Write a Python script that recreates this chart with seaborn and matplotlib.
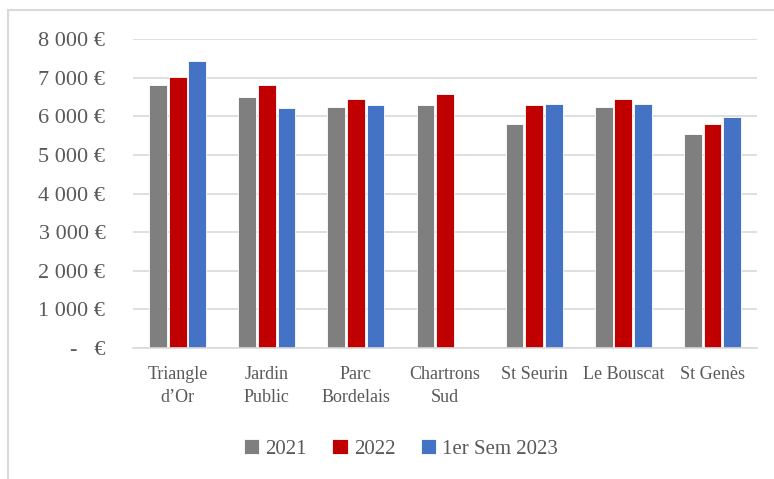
import numpy as np
import pandas as pd
import matplotlib
matplotlib.use("Agg")
import matplotlib.pyplot as plt
from matplotlib.patches import Rectangle
from matplotlib.ticker import FuncFormatter
import seaborn as sns

quartiers = ["Triangle\nd\u2019Or", "Jardin\nPublic", "Parc\nBordelais", "Chartrons\nSud",
             "St Seurin", "Le Bouscat", "St Gen\u00e8s"]
series = ["2021", "2022", "1er Sem 2023"]
prix_2021 = [6810, 6500, 6250, 6290, 5790, 6250, 5540]
prix_2022 = [7020, 6800, 6440, 6580, 6300, 6450, 5790]
prix_2023 = [7430, 6210, 6300, np.nan, 6320, 6320, 5980]
colors = ["#7F7F7F", "#C00000", "#4472C4"]


def main():
    df = pd.DataFrame({
        "quartier": quartiers * 3,
        "periode": [s for s in series for _ in quartiers],
        "prix": prix_2021 + prix_2022 + prix_2023,
    })

    sns.set_style("white")
    plt.rcParams["font.family"] = ["Liberation Serif", "DejaVu Serif"]
    text_col = "#595959"

    fig = plt.figure(figsize=(7.74, 4.79), dpi=100)
    ax = fig.add_axes([0.172, 0.2735, 0.806, 0.645])

    sns.barplot(
        data=df, x="quartier", y="prix", hue="periode",
        palette=colors, width=0.66, gap=0.1,
        edgecolor="white", linewidth=0.6,
        saturation=1, ax=ax, legend=True,
    )

    ax.set_ylim(0, 8000)
    ax.set_yticks(np.arange(0, 8001, 1000))

    def fmt(v, pos):
        if v == 0:
            return "-   \u20ac"
        return f"{int(v):,} \u20ac".replace(",", " ")

    ax.yaxis.set_major_formatter(FuncFormatter(fmt))
    ax.yaxis.grid(True, color="#D9D9D9", linewidth=1.2)
    ax.set_axisbelow(True)
    for side in ["top", "right", "left"]:
        ax.spines[side].set_visible(False)
    ax.spines["bottom"].set_color("#D9D9D9")
    ax.spines["bottom"].set_linewidth(1.2)
    ax.tick_params(axis="y", length=0, pad=20, labelsize=16, labelcolor=text_col)
    ax.tick_params(axis="x", length=0, pad=13, labelsize=13, labelcolor=text_col)
    for lbl in ax.get_xticklabels():
        lbl.set_linespacing(1.45)
    ax.set_xlabel("")
    ax.set_ylabel("")
    ax.set_xlim(-0.5, len(quartiers) - 0.5)

    handles, labels = ax.get_legend_handles_labels()
    ax.get_legend().remove()
    fig.legend(
        handles, labels, loc="center", bbox_to_anchor=(401 / 774, 1 - 449 / 479),
        ncol=3, frameon=False, fontsize=15, labelcolor=text_col,
        handlelength=0.75, handleheight=0.75, handletextpad=0.3, columnspacing=1.2,
    )

    # chart area border (cut at right/bottom as in the source)
    fig.patches.append(Rectangle(
        (8 / 774, -0.05), 1.2, 1 - 10 / 479 + 0.05,
        transform=fig.transFigure, fill=False, edgecolor="#D9D9D9", linewidth=1.5,
    ))

    fig.savefig("out.png", dpi=100)


if __name__ == "__main__":
    main()
